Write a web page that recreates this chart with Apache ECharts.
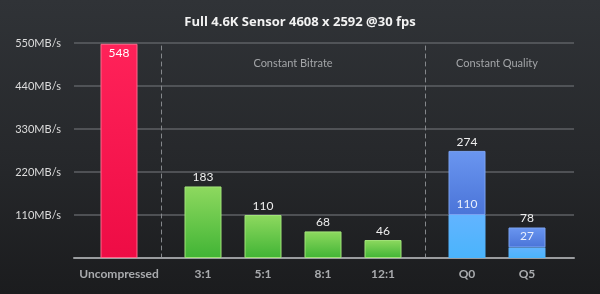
<!DOCTYPE html>
<html>
<head>
<meta charset="utf-8">
<script src="https://cdn.jsdelivr.net/npm/echarts@6/dist/echarts.min.js"></script>
<style>
html,body{margin:0;padding:0;}
#c{width:600px;height:294px;background:linear-gradient(180deg,#303337 0%,#26282b 55%,#1b1c1e 100%);}
</style>
</head>
<body>
<div id="c"></div>
<script>
var titleText = 'Full 4.6K Sensor 4608 x 2592 @30 fps';
var yTicks = [0, 110, 220, 330, 440, 550];
var uncompCats = ['Uncompressed'];
var uncompValues = [548];
var bitrateCats = ['3:1', '5:1', '8:1', '12:1'];
var bitrateValues = [183, 110, 68, 46];
var qualityCats = ['Q0', 'Q5'];
var qualityTotals = [274, 78];
var qualityBase = [110, 27];
var groupNames = ['Constant Bitrate', 'Constant Quality'];

var FONT = 'Lato, "Noto Sans", sans-serif';
var chart = echarts.init(document.getElementById('c'), null, {renderer: 'canvas'});
var yMax = yTicks[yTicks.length - 1];
var yInt = yTicks[1] - yTicks[0];

function grad(a, b) {
  return new echarts.graphic.LinearGradient(0, 0, 0, 1, [{offset: 0, color: a}, {offset: 1, color: b}]);
}
function hiddenY(idx, divider) {
  return {
    gridIndex: idx, type: 'value', min: 0, max: yMax, interval: yInt,
    show: divider, offset: 12,
    axisLine: {show: divider, lineStyle: {color: '#85888c', type: [4, 4], width: 1}},
    axisTick: {show: false}, axisLabel: {show: false}, splitLine: {show: false}
  };
}
function catX(idx, data) {
  return {
    gridIndex: idx, type: 'category', data: data,
    axisLine: {show: false}, axisTick: {show: false},
    axisLabel: {color: '#a9abae', fontSize: 12, fontWeight: 'bold', fontFamily: FONT, margin: 10}
  };
}
function nameX(idx, data, name) {
  return {
    gridIndex: idx, type: 'category', data: data, position: 'top',
    axisLine: {show: false}, axisTick: {show: false}, axisLabel: {show: false},
    name: name, nameLocation: 'middle', nameGap: -26,
    nameTextStyle: {color: '#a3a5a8', fontSize: 11, fontFamily: FONT}
  };
}
var valLabel = {show: true, position: 'top', distance: 3, color: '#eeeeee', fontSize: 12, fontFamily: FONT};

chart.setOption({
  animation: false,
  title: {text: titleText, left: 'center', top: 11,
    textStyle: {color: '#f2f2f2', fontSize: 13, fontWeight: 'bold', fontFamily: '"Open Sans", Lato, sans-serif'}},
  grid: [
    {left: 74, right: 26, top: 43, bottom: 36},
    {left: 89, width: 60, top: 43, bottom: 36},
    {left: 173, width: 240, top: 43, bottom: 36},
    {left: 437, width: 120, top: 43, bottom: 36}
  ],
  xAxis: [
    {gridIndex: 0, type: 'category', data: [''],
      axisLine: {show: true, lineStyle: {color: '#9a9c9f', width: 2}},
      axisTick: {show: false}, axisLabel: {show: false}},
    catX(1, uncompCats),
    catX(2, bitrateCats),
    catX(3, qualityCats),
    nameX(2, bitrateCats, groupNames[0]),
    nameX(3, qualityCats, groupNames[1])
  ],
  yAxis: [
    {gridIndex: 0, type: 'value', min: 0, max: yMax, interval: yInt,
      axisLine: {show: false}, axisTick: {show: false},
      axisLabel: {formatter: function (v) { return v === 0 ? '' : v + 'MB/s'; },
        color: '#dcdcdc', fontSize: 11, fontFamily: FONT, margin: 13},
      splitLine: {lineStyle: {color: '#5e6165', width: 1.5}}},
    hiddenY(1, false),
    hiddenY(2, true),
    hiddenY(3, true)
  ],
  series: [
    {type: 'bar', xAxisIndex: 1, yAxisIndex: 1, data: uncompValues, barWidth: 37,
      itemStyle: {color: grad('#ff2259', '#ee0c45'), borderColor: '#ff6a8c', borderWidth: 1},
      label: {show: true, position: 'insideTop', distance: 3, color: '#ffffff', fontSize: 12, fontFamily: FONT}},
    {type: 'bar', xAxisIndex: 2, yAxisIndex: 2, data: bitrateValues, barWidth: 37,
      itemStyle: {color: grad('#8ed95f', '#41b435'), borderColor: '#a2e37a', borderWidth: 1},
      label: valLabel},
    {type: 'bar', xAxisIndex: 3, yAxisIndex: 3, stack: 'q', z: 3, data: qualityBase, barWidth: 37,
      itemStyle: {color: grad('#62b4ff', '#4ab4fc')},
      label: {show: true, position: 'top', distance: 5, color: '#e8eefc', fontSize: 12, fontFamily: FONT}},
    {type: 'bar', xAxisIndex: 3, yAxisIndex: 3, stack: 'q', z: 2,
      data: qualityTotals.map(function (t, i) { return t - qualityBase[i]; }), barWidth: 37,
      itemStyle: {color: grad('#6a96f0', '#4a74d8'), borderColor: '#7aa2f2', borderWidth: 1},
      label: {show: true, position: 'top', distance: 3, color: '#eeeeee', fontSize: 12, fontFamily: FONT,
        formatter: function (p) { return qualityTotals[p.dataIndex]; }}}
  ]
});
</script>
</body>
</html>
